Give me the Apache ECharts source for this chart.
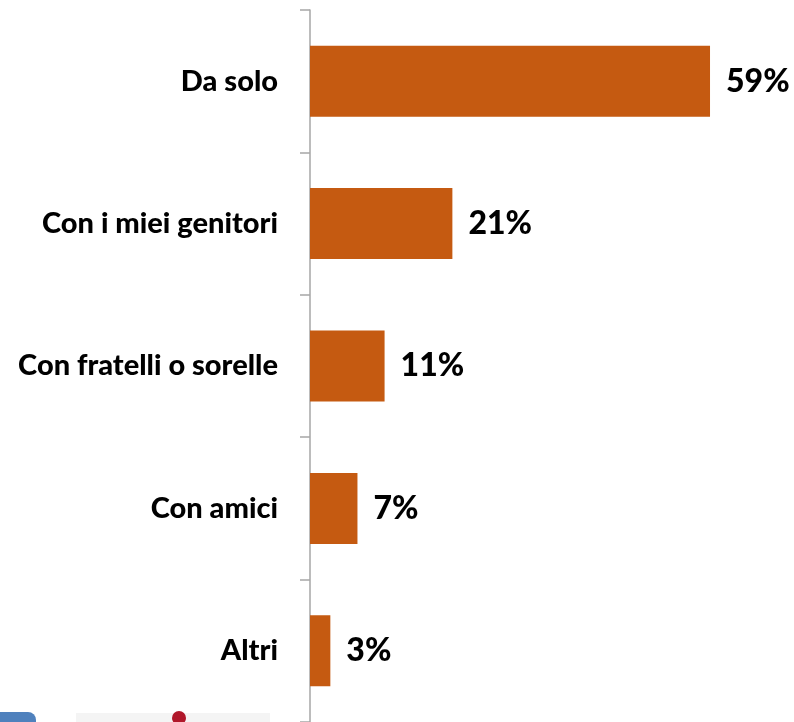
<!DOCTYPE html>
<html style="height: 100%">
<head>
<meta charset="utf-8">
<script src="https://cdn.jsdelivr.net/npm/echarts@6/dist/echarts.min.js"></script>
</head>
<body style="height: 100%; margin: 0; background: #fff">
<div id="container" style="width: 794px; height: 722px"></div>
<script type="text/javascript">
var categories = ['Da solo', 'Con i miei genitori', 'Con fratelli o sorelle', 'Con amici', 'Altri'];
var values = [59, 21, 11, 7, 3];

var myChart = echarts.init(document.getElementById('container'));
var option = {
    animation: false,
    grid: { left: 310, top: 10, width: 474.6, height: 715 },
    xAxis: {
        type: 'value', min: 0, max: 70,
        show: false
    },
    yAxis: {
        type: 'category',
        data: categories,
        inverse: true,
        axisLine: { lineStyle: { color: '#a6a6a6', width: 1.5 } },
        axisTick: { show: true, length: 10, lineStyle: { color: '#a6a6a6', width: 1.5 } },
        axisLabel: {
            margin: 32,
            color: '#000',
            fontFamily: 'Lato',
            fontWeight: 900,
            fontSize: 29
        }
    },
    series: [{
        type: 'bar',
        data: values,
        barWidth: 71,
        itemStyle: { color: '#c55a11' },
        label: {
            show: true,
            position: 'right',
            distance: 16,
            formatter: '{c}%',
            color: '#000',
            fontFamily: 'Lato',
            fontWeight: 900,
            fontSize: 32
        }
    }],
    graphic: [
        { type: 'rect', shape: { x: -10, y: 712, width: 46, height: 20, r: 8 }, style: { fill: '#4f81bd' } },
        { type: 'rect', shape: { x: 76, y: 713, width: 194, height: 10 }, style: { fill: '#f4f4f4' } },
        { type: 'circle', shape: { cx: 179, cy: 718, r: 7 }, style: { fill: '#b0172a' } }
    ]
};
myChart.setOption(option);
</script>
</body>
</html>
